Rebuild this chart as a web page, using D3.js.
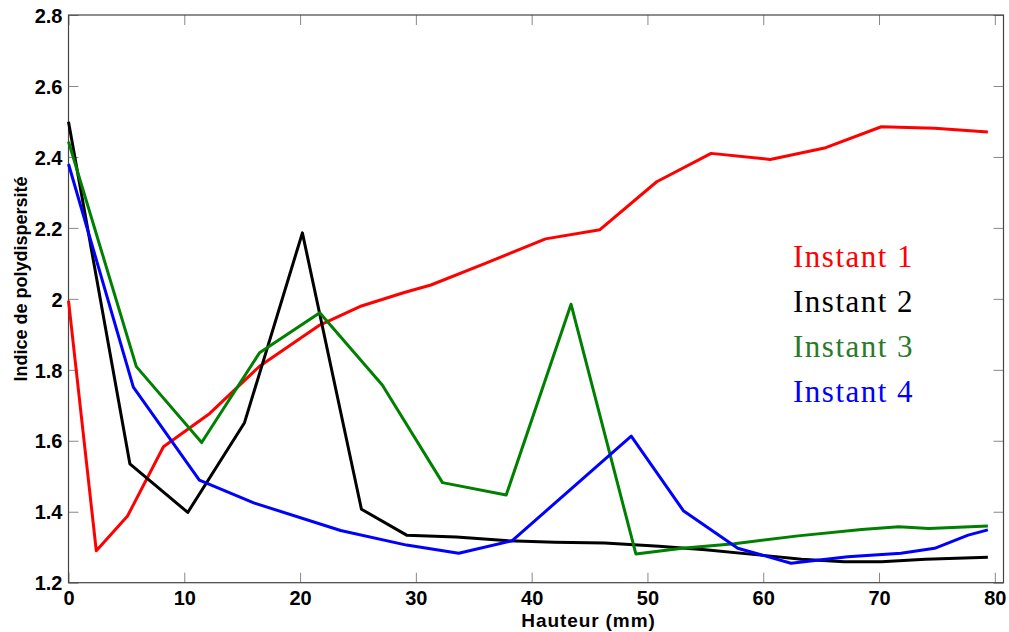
<!DOCTYPE html>
<html>
<head>
<meta charset="utf-8">
<script src="https://cdn.jsdelivr.net/npm/d3@7"></script>
<style>
  html, body { margin: 0; padding: 0; background: #fff; }
  svg { display: block; }
</style>
</head>
<body>
<svg id="chart" width="1009" height="632"></svg>
<script>
// ---- Data ----
const seriesNames = ["Instant 1", "Instant 2", "Instant 3", "Instant 4"];

const inst1X = [0, 2.4, 5.1, 8.2, 12.2, 16.5, 21.7, 25.3, 29.0, 31.3, 36.0, 41.2, 45.9, 50.8, 55.5, 60.6, 65.4, 70.2, 74.8, 79.4];
const inst1Y = [1.995, 1.29, 1.388, 1.583, 1.677, 1.81, 1.926, 1.98, 2.018, 2.039, 2.10, 2.169, 2.195, 2.33, 2.41, 2.393, 2.426, 2.485, 2.481, 2.47];

const inst2X = [0, 5.3, 10.3, 15.2, 20.2, 25.3, 29.2, 33.5, 38.0, 42.0, 46.3, 51.0, 55.0, 60.0, 63.3, 67.0, 70.2, 74.0, 79.4];
const inst2Y = [2.499, 1.535, 1.398, 1.651, 2.186, 1.407, 1.334, 1.329, 1.318, 1.314, 1.312, 1.303, 1.293, 1.277, 1.266, 1.259, 1.259, 1.266, 1.272];

const inst3X = [0, 5.86, 11.5, 16.5, 21.7, 27.1, 32.3, 37.8, 43.4, 49.0, 53.0, 57.5, 63.0, 68.5, 71.7, 74.3, 79.4];
const inst3Y = [2.443, 1.809, 1.595, 1.848, 1.961, 1.757, 1.482, 1.447, 1.985, 1.281, 1.297, 1.31, 1.332, 1.35, 1.358, 1.353, 1.36];

const inst4X = [0, 5.6, 11.3, 16.0, 23.5, 29.2, 33.7, 38.3, 48.6, 53.1, 57.8, 62.4, 67.3, 71.9, 74.8, 77.7, 79.4];
const inst4Y = [2.38, 1.751, 1.489, 1.425, 1.347, 1.306, 1.283, 1.318, 1.613, 1.403, 1.297, 1.255, 1.273, 1.283, 1.297, 1.334, 1.349];

const xTicks = [0, 10, 20, 30, 40, 50, 60, 70, 80];
const yTicks = [1.2, 1.4, 1.6, 1.8, 2.0, 2.2, 2.4, 2.6, 2.8];
const xLabel = "Hauteur (mm)";
const yLabel = "Indice de polydispersité";

const lineColors = ["#ff0000", "#000000", "#008000", "#0000ff"];
const legendColors = ["#ff0000", "#000000", "#2a7a2a", "#0000ff"];

// ---- Build ----
const series = [
  {name: seriesNames[0], pts: inst1X.map((x, i) => [x, inst1Y[i]])},
  {name: seriesNames[1], pts: inst2X.map((x, i) => [x, inst2Y[i]])},
  {name: seriesNames[2], pts: inst3X.map((x, i) => [x, inst3Y[i]])},
  {name: seriesNames[3], pts: inst4X.map((x, i) => [x, inst4Y[i]])}
];

const svg = d3.select("#chart");
const L = 68.5, R = 1003.5, T = 15, B = 582.7;
const x = d3.scaleLinear().domain([0, 80.75]).range([L, R]);
const y = d3.scaleLinear().domain([1.2, 2.8]).range([B, T]);

const tickFont = "'Liberation Sans', Arial, sans-serif";
const tickLen = 10;
const fmt = v => (Math.round(v * 10) / 10).toString();

// bottom axis
const gx = svg.append("g").attr("transform", `translate(0,${B})`)
  .call(d3.axisBottom(x).tickValues(xTicks).tickFormat(d3.format("d")).tickSizeInner(-tickLen).tickSizeOuter(0).tickPadding(5));
// top axis
const gxt = svg.append("g").attr("transform", `translate(0,${T})`)
  .call(d3.axisTop(x).tickValues(xTicks).tickFormat("").tickSizeInner(-tickLen).tickSizeOuter(0));
// left axis
const gy = svg.append("g").attr("transform", `translate(${L},0)`)
  .call(d3.axisLeft(y).tickValues(yTicks).tickFormat(fmt).tickSizeInner(-tickLen).tickSizeOuter(0).tickPadding(6));
// right axis
const gyr = svg.append("g").attr("transform", `translate(${R},0)`)
  .call(d3.axisRight(y).tickValues(yTicks).tickFormat("").tickSizeInner(-tickLen).tickSizeOuter(0));

[gx, gxt, gy, gyr].forEach(g => {
  g.select(".domain").remove();
  g.selectAll(".tick line").attr("stroke", "#888").attr("stroke-width", 1);
  g.selectAll(".tick text")
    .attr("font-family", tickFont).attr("font-weight", "bold")
    .attr("font-size", 20).attr("fill", "#000");
});
gx.selectAll(".tick text").attr("dy", "0.85em");
gy.selectAll(".tick text").attr("dy", "0.36em");

// frame
svg.append("rect").attr("x", L).attr("y", T).attr("width", R - L).attr("height", B - T)
  .attr("fill", "none").attr("stroke", "#444").attr("stroke-width", 1.2);

// lines
const line = d3.line().x(d => x(d[0])).y(d => y(d[1]));
svg.append("g").selectAll("path").data(series).join("path")
  .attr("d", d => line(d.pts))
  .attr("fill", "none")
  .attr("stroke", (d, i) => lineColors[i])
  .attr("stroke-width", 3)
  .attr("stroke-linejoin", "round")
  .attr("stroke-linecap", "butt");

// axis labels
svg.append("text").attr("x", 588.5).attr("y", 627)
  .attr("text-anchor", "middle")
  .attr("font-family", tickFont).attr("font-weight", "bold").attr("font-size", 19)
  .attr("letter-spacing", 0.9)
  .text(xLabel);
svg.append("text")
  .attr("transform", `translate(27,279) rotate(-90)`)
  .attr("text-anchor", "middle")
  .attr("font-family", tickFont).attr("font-weight", "bold").attr("font-size", 18)
  .text(yLabel);

// legend text
const legendG = svg.append("g");
legendG.selectAll("text").data(series).join("text")
  .attr("x", 793)
  .attr("y", (d, i) => 267 + i * 45)
  .attr("font-family", "'Liberation Serif', 'Times New Roman', serif")
  .attr("font-size", 31)
  .attr("letter-spacing", 1.5)
  .attr("fill", (d, i) => legendColors[i])
  .text(d => d.name);
</script>
</body>
</html>
